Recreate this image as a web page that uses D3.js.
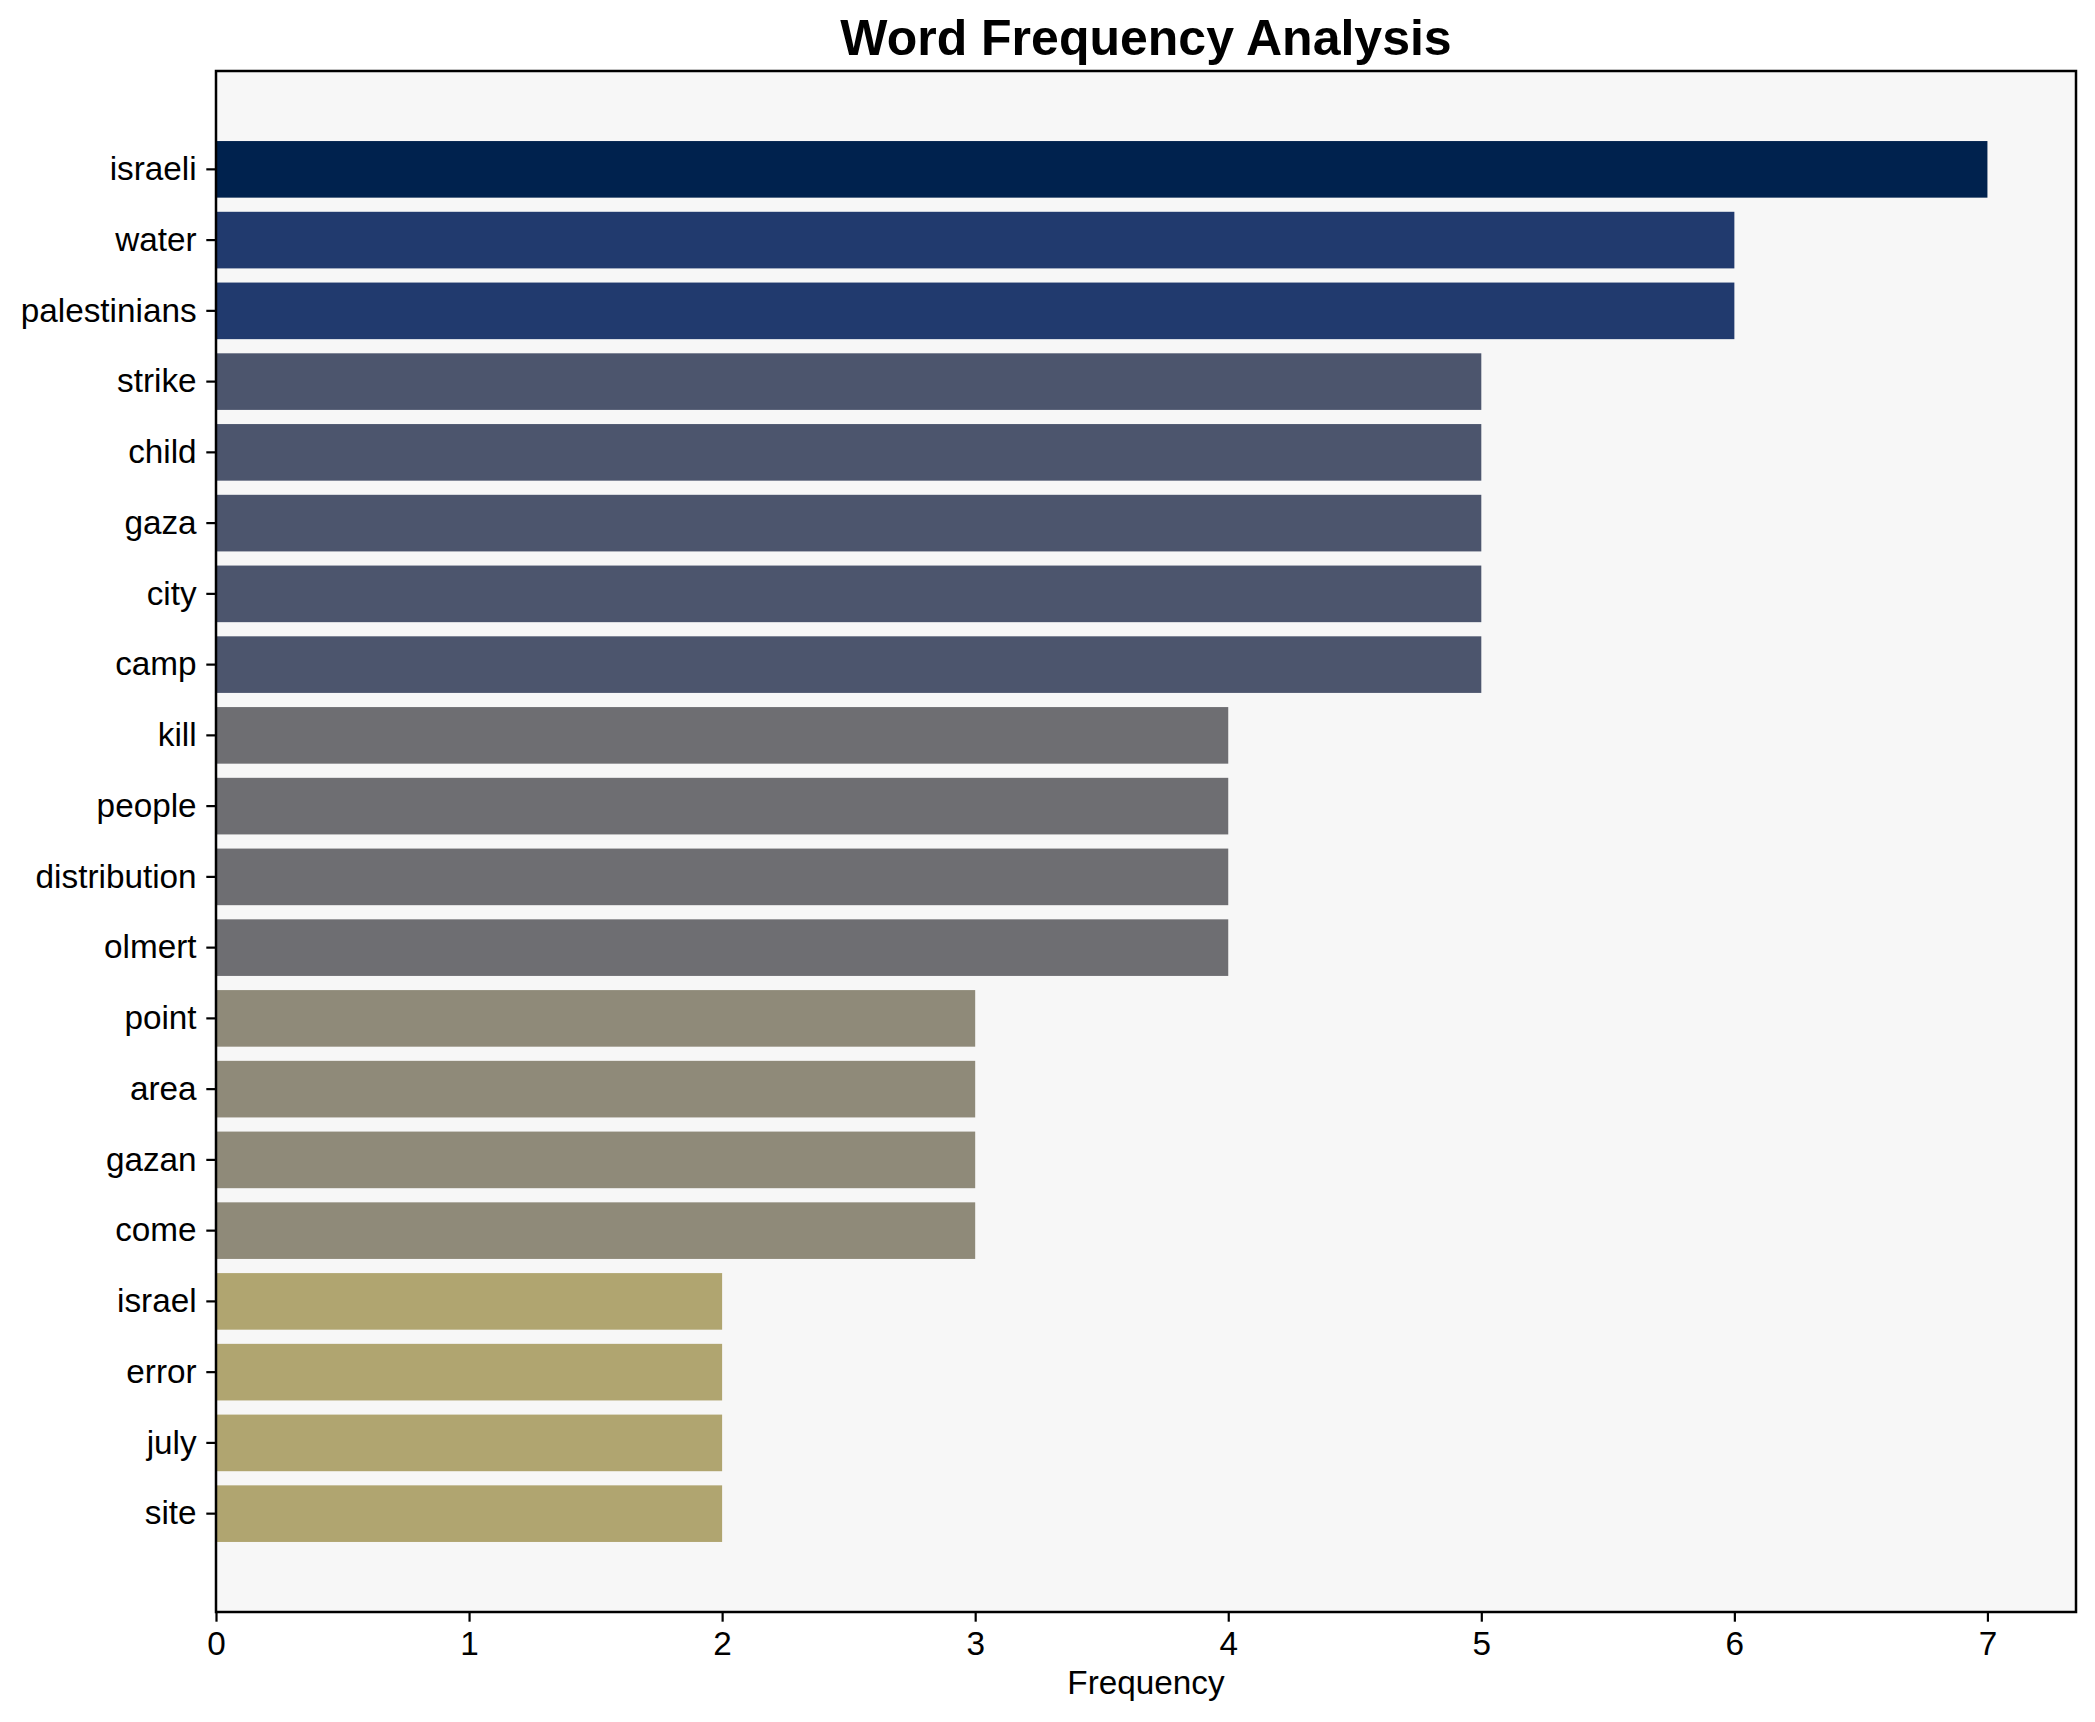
<!DOCTYPE html>
<html>
<head>
<meta charset="utf-8">
<script src="https://cdn.jsdelivr.net/npm/d3@7"></script>
<style>
  html, body { margin: 0; padding: 0; background: #ffffff; }
  svg { display: block; }
  text { font-family: "Liberation Sans", Arial, Helvetica, sans-serif; }
</style>
</head>
<body>
<svg id="chart" width="2095" height="1722"></svg>
<script>
// ---- data ----
const words = ["israeli", "water", "palestinians", "strike", "child", "gaza", "city", "camp",
  "kill", "people", "distribution", "olmert", "point", "area", "gazan", "come",
  "israel", "error", "july", "site"];
const frequencies = [7, 6, 6, 5, 5, 5, 5, 5, 4, 4, 4, 4, 3, 3, 3, 3, 2, 2, 2, 2];
const xTicks = [0, 1, 2, 3, 4, 5, 6, 7];
const colorLevels = [7, 6, 5, 4, 3, 2];
const colorValues = ["#00224e", "#213a6e", "#4c556d", "#6e6e72", "#8f8a79", "#b0a570"];
const titleText = "Word Frequency Analysis";
const xLabelText = "Frequency";

// ---- layout ----
const W = 2095, H = 1722;
const plot = { left: 216, right: 2076, top: 71, bottom: 1612 };

const svg = d3.select("#chart");

const x = d3.scaleLinear()
  .domain([0, d3.max(frequencies) * 1.05])
  .range([plot.left, plot.right]);

const y = d3.scaleBand()
  .domain(words)
  .range([plot.top, plot.bottom])
  .paddingInner(0.2)
  .paddingOuter(0.99);

const color = d3.scaleOrdinal().domain(colorLevels).range(colorValues);

// axes background
svg.append("rect")
  .attr("x", plot.left).attr("y", plot.top)
  .attr("width", plot.right - plot.left).attr("height", plot.bottom - plot.top)
  .attr("fill", "#f7f7f7");

// bars
svg.append("g").selectAll("rect")
  .data(words.map((w, i) => ({ w, v: frequencies[i] })))
  .join("rect")
  .attr("x", x(0))
  .attr("y", d => y(d.w))
  .attr("width", d => x(d.v) - x(0))
  .attr("height", y.bandwidth())
  .attr("fill", d => color(d.v));

// x axis
const xAxis = svg.append("g")
  .attr("transform", `translate(0,${plot.bottom})`)
  .call(d3.axisBottom(x).tickValues(xTicks).tickFormat(d3.format("d"))
    .tickSize(9.7).tickPadding(9.7));
xAxis.select(".domain").remove();
xAxis.selectAll(".tick line").attr("stroke", "#000").attr("stroke-width", 2.2);
xAxis.selectAll(".tick text")
  .attr("font-size", 33.3).attr("fill", "#000")
  .attr("font-family", "Liberation Sans, Arial, sans-serif");

// y axis
const yAxis = svg.append("g")
  .attr("transform", `translate(${plot.left},0)`)
  .call(d3.axisLeft(y).tickSize(9.7).tickPadding(9.7));
yAxis.select(".domain").remove();
yAxis.selectAll(".tick line").attr("stroke", "#000").attr("stroke-width", 2.2);
yAxis.selectAll(".tick text")
  .attr("font-size", 33.3).attr("fill", "#000")
  .attr("font-family", "Liberation Sans, Arial, sans-serif");

// frame
svg.append("rect")
  .attr("x", plot.left).attr("y", plot.top)
  .attr("width", plot.right - plot.left).attr("height", plot.bottom - plot.top)
  .attr("fill", "none").attr("stroke", "#000").attr("stroke-width", 2.5);

// title
svg.append("text")
  .attr("x", (plot.left + plot.right) / 2)
  .attr("y", 55)
  .attr("text-anchor", "middle")
  .attr("font-size", 50)
  .attr("font-weight", "bold")
  .attr("fill", "#000")
  .text(titleText);

// x label
svg.append("text")
  .attr("x", (plot.left + plot.right) / 2)
  .attr("y", 1694)
  .attr("text-anchor", "middle")
  .attr("font-size", 33.3)
  .attr("fill", "#000")
  .text(xLabelText);
</script>
</body>
</html>
